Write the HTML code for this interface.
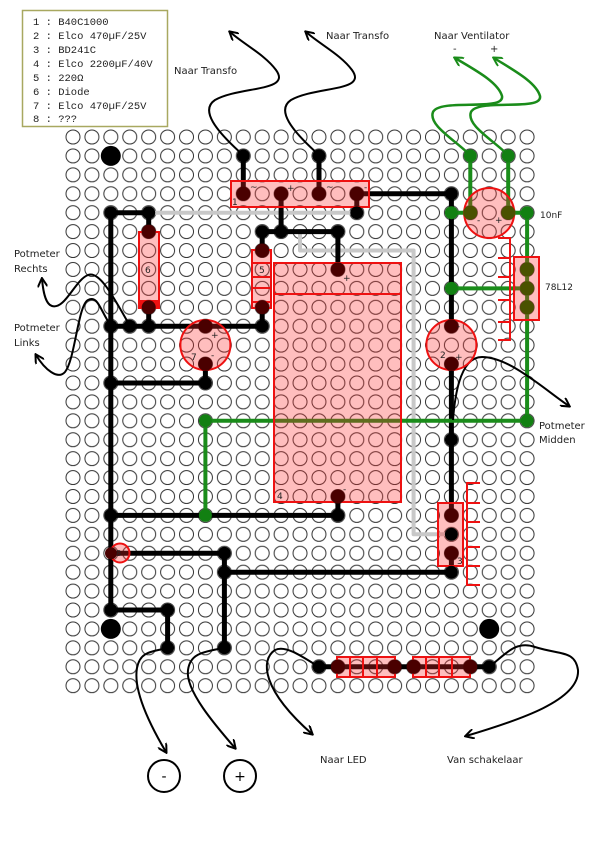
<!DOCTYPE html>
<html><head><meta charset="utf-8"><style>
html,body{margin:0;padding:0;background:#fff;}
svg{display:block;}
</style></head><body>
<svg width="600" height="867" viewBox="0 0 600 867" xmlns="http://www.w3.org/2000/svg">
<defs>
<pattern id="holes" patternUnits="userSpaceOnUse" x="63.54" y="127.54" width="18.92" height="18.92">
<circle cx="9.46" cy="9.46" r="7" fill="#fff" stroke="#333" stroke-width="1"/>
</pattern>
<marker id="ah" markerWidth="10" markerHeight="10" refX="8" refY="5" orient="auto" markerUnits="userSpaceOnUse">
<path d="M0,0 L9,5 L0,10" fill="none" stroke="#000" stroke-width="2"/>
</marker>
<marker id="ahg" markerWidth="10" markerHeight="10" refX="8" refY="5" orient="auto" markerUnits="userSpaceOnUse">
<path d="M0,0 L9,5 L0,10" fill="none" stroke="#1a8c1a" stroke-width="2"/>
</marker>
</defs>
<rect x="0" y="0" width="600" height="867" fill="#fff"/>
<rect x="63.54" y="127.54" width="473.0" height="567.6" fill="url(#holes)"/>

<!-- legend -->
<rect x="22.5" y="10.5" width="145" height="116" fill="#fff" stroke="#a8a860" stroke-width="1.5"/>
<g font-family="Liberation Mono, monospace" font-size="10.5" fill="#222">
<text x="33" y="25">1 : B40C1000</text>
<text x="33" y="39">2 : Elco 470µF/25V</text>
<text x="33" y="53">3 : BD241C</text>
<text x="33" y="67">4 : Elco 2200µF/40V</text>
<text x="33" y="81">5 : 220Ω</text>
<text x="33" y="95">6 : Diode</text>
<text x="33" y="109">7 : Elco 470µF/25V</text>
<text x="33" y="122">8 : ???</text>
</g>

<g font-family="DejaVu Sans, sans-serif" font-size="10" fill="#222">
<text x="174" y="74">Naar Transfo</text>
<text x="326" y="39">Naar Transfo</text>
<text x="434" y="39">Naar Ventilator</text>
<text x="453" y="52">-</text>
<text x="490" y="52">+</text>
<text x="14" y="257">Potmeter</text>
<text x="14" y="272">Rechts</text>
<text x="14" y="331">Potmeter</text>
<text x="14" y="346">Links</text>
<text x="539" y="429">Potmeter</text>
<text x="539" y="443">Midden</text>
<text x="320" y="763">Naar LED</text>
<text x="447" y="763">Van schakelaar</text>
</g>
<g font-family="DejaVu Sans, sans-serif" font-size="9" fill="#222">
<text x="540" y="218">10nF</text>
<text x="545" y="290">78L12</text>
</g>

<!-- gray wires -->
<g stroke="#c8c8c8" stroke-width="4" fill="none" stroke-linejoin="round">
<polyline points="148.7,212.7 356.8,212.7"/>
<polyline points="300,231.6 300,250.5 413.6,250.5 413.6,534.3 451.4,534.3"/>
</g>

<!-- black wires -->
<g stroke="#000" stroke-width="5" fill="none" stroke-linejoin="round" stroke-linecap="round">
<polyline points="243.3,155.9 243.3,193.8"/>
<polyline points="319,155.9 319,193.8"/>
<polyline points="356.8,212.7 356.8,193.8 451.4,193.8 451.4,326.2"/>
<polyline points="281.1,193.8 281.1,231.6"/>
<polyline points="262.2,250.5 262.2,231.6 337.9,231.6 337.9,269.4"/>
<polyline points="148.7,231.6 148.7,212.7 110.8,212.7 110.8,610"/>
<polyline points="148.7,307.3 148.7,326.2"/>
<polyline points="110.8,326.2 262.2,326.2 262.2,307.3"/>
<polyline points="205.4,364 205.4,383 110.8,383"/>
<polyline points="451.4,364 451.4,515.4"/>
<polyline points="110.8,515.4 337.9,515.4 337.9,496.5"/>
<polyline points="110.8,553.2 224.4,553.2 224.4,647.8"/>
<polyline points="224.4,572.2 451.4,572.2 451.4,553.2"/>
<polyline points="110.8,610 167.6,610 167.6,647.8"/>
<polyline points="319,666.8 489.2,666.8"/>
</g>

<!-- green wires -->
<g stroke="#1a8c1a" stroke-width="4" fill="none" stroke-linejoin="round">
<polyline points="470.3,155.9 470.3,212.7 451.4,212.7"/>
<polyline points="508.2,155.9 508.2,212.7 527.1,212.7 527.1,420.8 205.4,420.8 205.4,515.4"/>
<polyline points="451.4,288.4 527.1,288.4"/>
</g>

<!-- curved leads -->
<g fill="none" stroke="#000" stroke-width="2">
<path d="M243,155 C215,130 200,110 215,100 C240,86 292,92 276,70 C265,55 245,45 230,32" marker-end="url(#ah)"/>
<path d="M319,155 C291,130 276,110 291,100 C316,86 368,92 352,70 C341,55 321,45 306,32" marker-end="url(#ah)"/>
<path d="M130,326 C115,300 100,270 88,275 C75,280 65,310 52,306 C45,304 43,290 42,279" marker-end="url(#ah)"/>
<path d="M111,326 C100,310 98,295 88,300 C78,305 75,360 65,372 C58,380 45,370 36,355" marker-end="url(#ah)"/>
<path d="M453,420 C456,380 465,357 482,357 C510,357 545,390 569,406" marker-end="url(#ah)"/>
<path d="M168,648 C150,652 140,652 137,668 C133,690 150,725 166,752" marker-end="url(#ah)"/>
<path d="M224,648 C200,652 190,655 188,670 C185,690 215,725 235,748" marker-end="url(#ah)"/>
<path d="M319,667 C300,655 285,645 275,650 C260,660 262,690 312,734" marker-end="url(#ah)"/>
<path d="M489,667 C505,655 515,640 535,647 C560,655 575,650 578,670 C580,700 520,720 466,736" marker-end="url(#ah)"/>
</g>
<g fill="none" stroke="#1a8c1a" stroke-width="2.5">
<path d="M470,155 C455,140 428,125 433,112 C440,98 505,112 502,96 C498,82 475,70 455,58" marker-end="url(#ahg)"/>
<path d="M508,155 C493,140 466,125 471,112 C478,98 543,112 540,96 C536,82 513,70 494,58" marker-end="url(#ahg)"/>
</g>

<!-- minus/plus terminals -->
<circle cx="164" cy="776" r="16" fill="#fff" stroke="#000" stroke-width="2"/>
<text x="164" y="781" font-family="DejaVu Sans, sans-serif" font-size="14" text-anchor="middle">-</text>
<circle cx="240" cy="776" r="16" fill="#fff" stroke="#000" stroke-width="2"/>
<text x="240" y="781" font-family="DejaVu Sans, sans-serif" font-size="14" text-anchor="middle">+</text>

<!-- components -->
<g fill="rgba(255,40,40,0.3)" stroke="#ee1111" stroke-width="2">
<rect x="231" y="181" width="138" height="26"/>
<rect x="139" y="232" width="20" height="76"/>
<rect x="252" y="250" width="19" height="58"/>
<rect x="274" y="263" width="127" height="239"/>
<circle cx="205.4" cy="345" r="25"/>
<circle cx="451.4" cy="345" r="25"/>
<circle cx="489.2" cy="213" r="25"/>
<rect x="514" y="257" width="25" height="63"/>
<rect x="438" y="503" width="25" height="63"/>
<circle cx="120" cy="553" r="9.5"/>
<rect x="337" y="657" width="58" height="20"/>
<rect x="413" y="657" width="57" height="20"/>
</g>
<g stroke="#ee1111" stroke-width="2" fill="none">
<line x1="274" y1="294" x2="401" y2="294"/>
<line x1="252" y1="263" x2="271" y2="263"/>
<line x1="252" y1="277" x2="271" y2="277"/>
<line x1="252" y1="288" x2="271" y2="288"/>
<line x1="252" y1="302" x2="271" y2="302"/>
<line x1="350" y1="657" x2="350" y2="677"/>
<line x1="363" y1="657" x2="363" y2="677"/>
<line x1="377" y1="657" x2="377" y2="677"/>
<line x1="426" y1="657" x2="426" y2="677"/>
<line x1="439" y1="657" x2="439" y2="677"/>
<line x1="452" y1="657" x2="452" y2="677"/>
<polyline points="498,238 510,238 510,340 498,340"/>
<line x1="498" y1="258" x2="510" y2="258"/>
<line x1="498" y1="277" x2="510" y2="277"/>
<line x1="498" y1="300" x2="510" y2="300"/>
<line x1="498" y1="322" x2="510" y2="322"/>
<polyline points="480,483 467,483 467,585 480,585"/>
<line x1="467" y1="503" x2="480" y2="503"/>
<line x1="467" y1="522" x2="480" y2="522"/>
<line x1="467" y1="547" x2="480" y2="547"/>
<line x1="467" y1="566" x2="480" y2="566"/>
</g>
<rect x="139" y="300" width="20" height="8" fill="#ee1111"/>

<!-- dark pins -->
<g fill="#4a0000">
<circle cx="243.3" cy="193.8" r="7"/><circle cx="281.1" cy="193.8" r="7"/>
<circle cx="319" cy="193.8" r="7"/><circle cx="356.8" cy="193.8" r="7"/>
<circle cx="148.7" cy="231.6" r="7"/><circle cx="148.7" cy="307.3" r="7"/>
<circle cx="262.2" cy="250.5" r="7"/><circle cx="262.2" cy="307.3" r="7"/>
<circle cx="337.9" cy="269.4" r="7"/><circle cx="337.9" cy="496.5" r="7"/>
<circle cx="205.4" cy="326.2" r="7"/><circle cx="205.4" cy="364" r="7"/>
<circle cx="451.4" cy="326.2" r="7"/><circle cx="451.4" cy="364" r="7"/>
<circle cx="451.4" cy="515.4" r="7"/><circle cx="451.4" cy="553.2" r="7"/>
<circle cx="337.9" cy="666.8" r="7"/><circle cx="394.6" cy="666.8" r="7"/>
<circle cx="413.6" cy="666.8" r="7"/><circle cx="470.3" cy="666.8" r="7"/>
<circle cx="111" cy="553.2" r="6"/>
</g>
<g fill="#4a5200">
<circle cx="470.3" cy="212.7" r="7"/><circle cx="508.2" cy="212.7" r="7"/>
<circle cx="527.1" cy="269.4" r="7"/><circle cx="527.1" cy="288.4" r="7"/><circle cx="527.1" cy="307.3" r="7"/>
</g>

<!-- black nodes -->
<g fill="#000">
<circle cx="243.3" cy="155.9" r="6.5"/><circle cx="319" cy="155.9" r="6.5"/>
<circle cx="356.8" cy="212.7" r="6.5"/><circle cx="281.1" cy="231.6" r="6.5"/>
<circle cx="262.2" cy="231.6" r="6.5"/><circle cx="337.9" cy="231.6" r="6.5"/>
<circle cx="451.4" cy="193.8" r="6.5"/>
<circle cx="110.8" cy="212.7" r="6.5"/><circle cx="148.7" cy="212.7" r="6.5"/>
<circle cx="110.8" cy="326.2" r="6.5"/><circle cx="129.8" cy="326.2" r="6.5"/>
<circle cx="148.7" cy="326.2" r="6.5"/><circle cx="262.2" cy="326.2" r="6.5"/>
<circle cx="110.8" cy="383" r="6.5"/><circle cx="205.4" cy="383" r="6.5"/>
<circle cx="451.4" cy="439.7" r="6.5"/>
<circle cx="110.8" cy="515.4" r="6.5"/><circle cx="337.9" cy="515.4" r="6.5"/>
<circle cx="224.4" cy="553.2" r="6.5"/><circle cx="224.4" cy="572.2" r="6.5"/>
<circle cx="451.4" cy="534.3" r="6.5"/><circle cx="451.4" cy="572.2" r="6.5"/>
<circle cx="110.8" cy="610" r="6.5"/><circle cx="167.6" cy="610" r="6.5"/>
<circle cx="167.6" cy="647.8" r="6.5"/><circle cx="224.4" cy="647.8" r="6.5"/>
<circle cx="319" cy="666.8" r="6.5"/><circle cx="489.2" cy="666.8" r="6.5"/>
<circle cx="110.8" cy="155.9" r="10"/><circle cx="110.8" cy="628.9" r="10"/>
<circle cx="489.2" cy="628.9" r="10"/>
</g>
<g fill="#128012">
<circle cx="470.3" cy="155.9" r="6.5"/><circle cx="508.2" cy="155.9" r="6.5"/>
<circle cx="451.4" cy="212.7" r="6.5"/><circle cx="527.1" cy="212.7" r="6.5"/>
<circle cx="451.4" cy="288.4" r="6.5"/><circle cx="527.1" cy="420.8" r="6.5"/>
<circle cx="205.4" cy="420.8" r="6.5"/><circle cx="205.4" cy="515.4" r="6.5"/>
</g>

<!-- component labels -->
<g font-family="DejaVu Sans, sans-serif" font-size="9" fill="#222">
<text x="250" y="190">~</text><text x="287" y="191">+</text>
<text x="326" y="190">~</text><text x="364" y="190">-</text>
<text x="232" y="205">1</text>
<text x="145" y="273">6</text>
<text x="259" y="273">5</text>
<text x="343" y="281">+</text>
<text x="343" y="492">-</text>
<text x="277" y="499">4</text>
<text x="211" y="338">+</text><text x="211" y="358">-</text><text x="191" y="360">7</text>
<text x="457" y="329">-</text><text x="455" y="360">+</text><text x="440" y="358">2</text>
<text x="477" y="223">-</text><text x="495" y="223">+</text>
<text x="457" y="564">3</text>
<text x="116" y="556" font-size="8">8</text>
</g>
</svg>
</body></html>
